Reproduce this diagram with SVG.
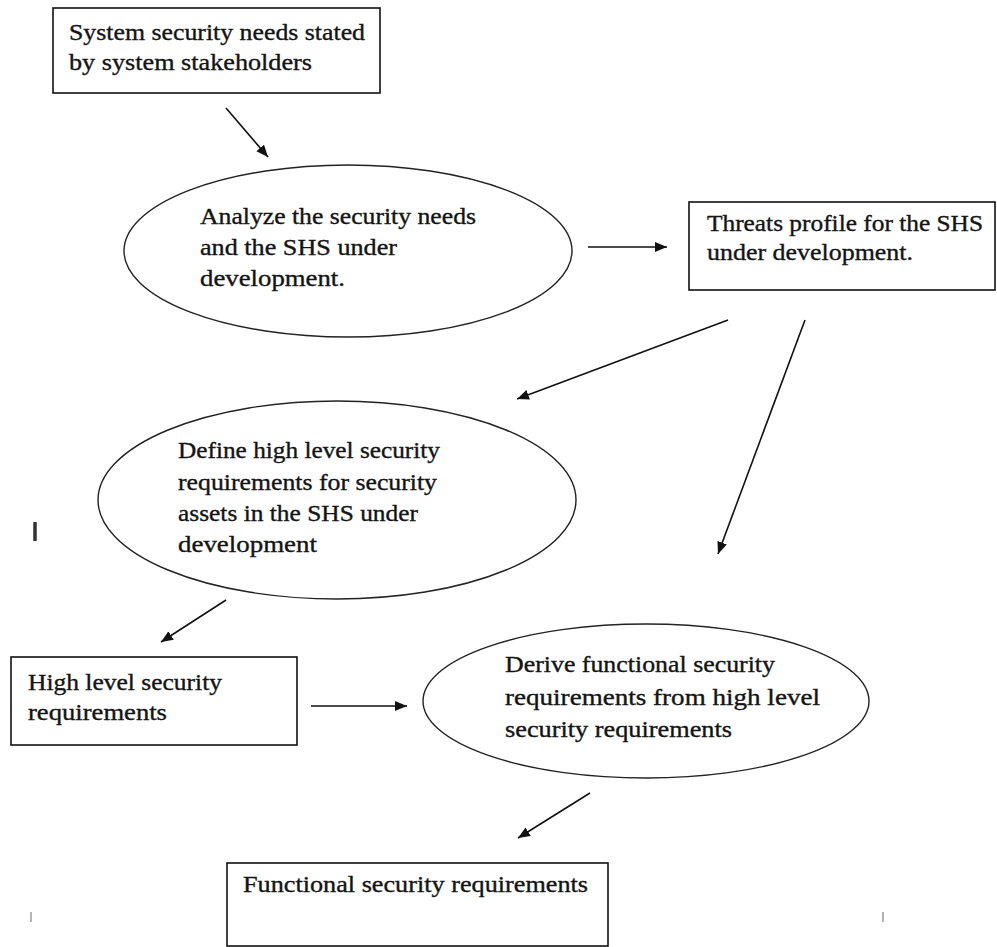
<svg xmlns="http://www.w3.org/2000/svg" width="997" height="947" viewBox="0 0 997 947">
<style>
.box{fill:#fff;stroke:#111;stroke-width:1.6}
.ell{fill:#fff;stroke:#222;stroke-width:1.4}
.t{font-family:"Liberation Serif","Times New Roman",serif;font-size:23px;fill:#141414;stroke:#141414;stroke-width:0.35}
.c{stroke:#111;stroke-width:1.6;fill:none;marker-end:url(#ah)}
.tick{stroke:#9a9a9a;stroke-width:1.5}
</style>
<defs>
<marker id="ah" markerUnits="userSpaceOnUse" markerWidth="14" markerHeight="12" refX="12" refY="5" orient="auto">
<path d="M0,0 L12,5 L0,10 z" fill="#111"/>
</marker>
</defs>
<rect width="997" height="947" fill="#fff"/>
<g id="connectors">
<line class="c" x1="226" y1="108" x2="268" y2="157"/>
<line class="c" x1="588" y1="247" x2="667" y2="247"/>
<line class="c" x1="728" y1="320" x2="517" y2="399"/>
<line class="c" x1="805" y1="320" x2="718" y2="554"/>
<line class="c" x1="226" y1="600" x2="161" y2="642"/>
<line class="c" x1="311" y1="706" x2="407" y2="706"/>
<line class="c" x1="590" y1="793" x2="518" y2="838"/>
</g>
<g id="stakeholder-needs">
<rect class="box" x="53" y="8" width="327" height="85"/>
<text class="t" x="69" y="40" textLength="296" lengthAdjust="spacingAndGlyphs">System security needs stated</text>
<text class="t" x="69" y="70" textLength="243" lengthAdjust="spacingAndGlyphs">by system stakeholders</text>
</g>
<g id="analyze">
<ellipse class="ell" cx="348" cy="251" rx="224" ry="86"/>
<text class="t" x="200" y="224" textLength="276" lengthAdjust="spacingAndGlyphs">Analyze the security needs</text>
<text class="t" x="200" y="255" textLength="197" lengthAdjust="spacingAndGlyphs">and the SHS under</text>
<text class="t" x="200" y="286" textLength="145" lengthAdjust="spacingAndGlyphs">development.</text>
</g>
<g id="threats-profile">
<rect class="box" x="689" y="202" width="306" height="88"/>
<text class="t" x="707" y="231" textLength="276" lengthAdjust="spacingAndGlyphs">Threats profile for the SHS</text>
<text class="t" x="707" y="260" textLength="206" lengthAdjust="spacingAndGlyphs">under development.</text>
</g>
<g id="define-high-level">
<ellipse class="ell" cx="337" cy="500" rx="239" ry="99"/>
<text class="t" x="178" y="458" textLength="262" lengthAdjust="spacingAndGlyphs">Define high level security</text>
<text class="t" x="178" y="490" textLength="259" lengthAdjust="spacingAndGlyphs">requirements for security</text>
<text class="t" x="178" y="521" textLength="240" lengthAdjust="spacingAndGlyphs">assets in the SHS under</text>
<text class="t" x="178" y="552" textLength="139" lengthAdjust="spacingAndGlyphs">development</text>
</g>
<g id="high-level-reqs">
<rect class="box" x="11" y="657" width="286" height="88"/>
<text class="t" x="28" y="690" textLength="194" lengthAdjust="spacingAndGlyphs">High level security</text>
<text class="t" x="28" y="720" textLength="139" lengthAdjust="spacingAndGlyphs">requirements</text>
</g>
<g id="derive-functional">
<ellipse class="ell" cx="646" cy="701" rx="223" ry="77"/>
<text class="t" x="505" y="672" textLength="270" lengthAdjust="spacingAndGlyphs">Derive functional security</text>
<text class="t" x="505" y="705" textLength="315" lengthAdjust="spacingAndGlyphs">requirements from high level</text>
<text class="t" x="505" y="737" textLength="227" lengthAdjust="spacingAndGlyphs">security requirements</text>
</g>
<g id="functional-reqs">
<rect class="box" x="227" y="863" width="381" height="83"/>
<text class="t" x="243" y="892" textLength="345" lengthAdjust="spacingAndGlyphs">Functional security requirements</text>
</g>
<g id="marks">
<line x1="35" y1="522" x2="35" y2="541" stroke="#333" stroke-width="3.5"/>
<line class="tick" x1="31" y1="912" x2="31" y2="922"/>
<line class="tick" x1="883" y1="912" x2="883" y2="922"/>
</g>
</svg>
